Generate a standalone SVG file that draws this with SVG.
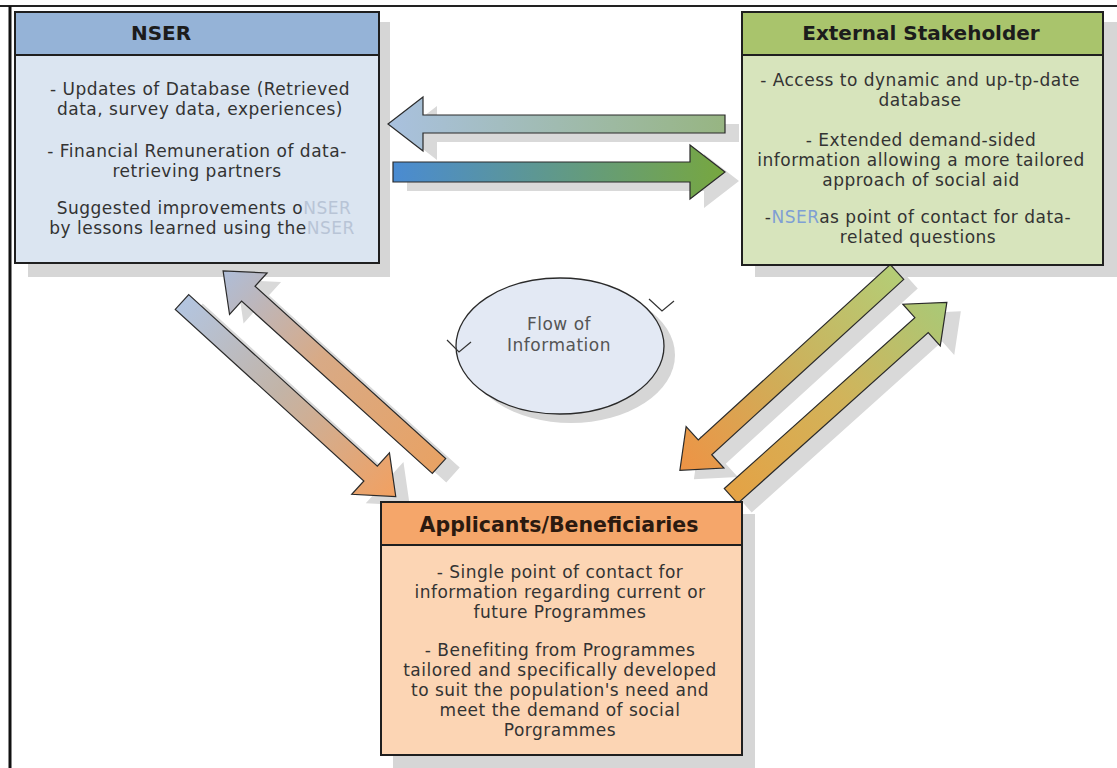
<svg xmlns="http://www.w3.org/2000/svg" width="1117" height="768" viewBox="0 0 1117 768">
<style>
.t{font-family:"DejaVu Sans","Liberation Sans",sans-serif;font-size:17px;letter-spacing:0.5px;fill:#333;text-anchor:middle}
.h{font-family:"DejaVu Sans","Liberation Sans",sans-serif;font-size:20px;font-weight:bold;fill:#1c1c1c;text-anchor:middle}
.box{stroke:#1f1f1f;stroke-width:2}
.sh{fill:#d6d6d6}
.ar{stroke:#2a2a2a;stroke-width:1.2;stroke-linejoin:miter}
.ash{fill:#d9d9d9}
.mk{fill:none;stroke:#333;stroke-width:1.2}
</style>
<defs>
<linearGradient id="gTop" x1="0" y1="0" x2="1" y2="0"><stop offset="0" stop-color="#a9c1df"/><stop offset="1" stop-color="#97b582"/></linearGradient>
<linearGradient id="gBot" x1="0" y1="0" x2="1" y2="0"><stop offset="0" stop-color="#4a8bd2"/><stop offset="1" stop-color="#77a73f"/></linearGradient>
<linearGradient id="gA" x1="0" y1="0" x2="1" y2="0"><stop offset="0" stop-color="#b3c5e0"/><stop offset="0.45" stop-color="#c2b4a8"/><stop offset="1" stop-color="#f2a060"/></linearGradient>
<linearGradient id="gB" x1="0" y1="0" x2="1" y2="0"><stop offset="0" stop-color="#e8a264"/><stop offset="0.55" stop-color="#d8aa86"/><stop offset="1" stop-color="#aebdd8"/></linearGradient>
<linearGradient id="gC" x1="0" y1="0" x2="1" y2="0"><stop offset="0" stop-color="#b4cd76"/><stop offset="0.55" stop-color="#d0ad58"/><stop offset="1" stop-color="#ee9345"/></linearGradient>
<linearGradient id="gD" x1="0" y1="0" x2="1" y2="0"><stop offset="0" stop-color="#e4a245"/><stop offset="0.5" stop-color="#d2b35a"/><stop offset="1" stop-color="#a9c977"/></linearGradient>
</defs>
<rect x="0" y="0" width="1117" height="768" fill="#fff"/>
<g id="frame">
<line x1="0" y1="6" x2="1117" y2="6" stroke="#222" stroke-width="2"/>
<line x1="10" y1="6" x2="10" y2="768" stroke="#111" stroke-width="3"/>
</g>
<g id="shadows">
<rect class="sh" x="28" y="22" width="362" height="255"/>
<rect class="sh" x="755" y="22" width="362" height="255"/>
<rect class="sh" x="393" y="514" width="362" height="254"/>
<ellipse class="sh" cx="571" cy="355" rx="104" ry="68"/>
</g>
<g id="connectors">
<polygon class="ash" transform="translate(14,9)" points="725,115 423,115 423,97 388,124 423,151 423,133 725,133"/>
<polygon class="ash" transform="translate(14,9)" points="393,162 690,162 690,145 725,172 690,199 690,182 393,182"/>
<g transform="translate(196,311) rotate(42.3)"><polygon class="ash" points="0,-10 255,-10 255,-28 289,0 255,28 255,10 0,10"/></g>
<g transform="translate(453,475) rotate(-137.9)"><polygon class="ash" points="0,-10 257,-10 257,-28 291,0 257,28 257,10 0,10"/></g>
<g transform="translate(911,281) rotate(137.6)"><polygon class="ash" points="0,-10 260,-10 260,-28 294,0 260,28 260,10 0,10"/></g>
<g transform="translate(745,505) rotate(-41.9)"><polygon class="ash" points="0,-10 256,-10 256,-28 290,0 256,28 256,10 0,10"/></g>
<polygon class="ar" fill="url(#gTop)" points="725,115 423,115 423,97 388,124 423,151 423,133 725,133"/>
<polygon class="ar" fill="url(#gBot)" points="393,162 690,162 690,145 725,172 690,199 690,182 393,182"/>
<g transform="translate(182,302) rotate(42.3)"><polygon class="ar" fill="url(#gA)" points="0,-10 255,-10 255,-28 289,0 255,28 255,10 0,10"/></g>
<g transform="translate(439,466) rotate(-137.9)"><polygon class="ar" fill="url(#gB)" points="0,-10 257,-10 257,-28 291,0 257,28 257,10 0,10"/></g>
<g transform="translate(897,272) rotate(137.6)"><polygon class="ar" fill="url(#gC)" points="0,-10 260,-10 260,-28 294,0 260,28 260,10 0,10"/></g>
<g transform="translate(731,496) rotate(-41.9)"><polygon class="ar" fill="url(#gD)" points="0,-10 256,-10 256,-28 290,0 256,28 256,10 0,10"/></g>
</g>
<g id="nser">
<rect class="box" x="15" y="12" width="364" height="251" fill="#dbe5f1"/>
<rect class="box" x="15" y="12" width="364" height="43" fill="#95b3d7"/>
<text class="h" x="161" y="40">NSER</text>
<text class="t" x="200" y="95">- Updates of Database (Retrieved</text>
<text class="t" x="200" y="115">data, survey data, experiences)</text>
<text class="t" x="197" y="157">- Financial Remuneration of data-</text>
<text class="t" x="197" y="177">retrieving partners</text>
<text class="t" x="204" y="214">Suggested improvements o<tspan fill="#b8c4d6">NSER</tspan></text>
<text class="t" x="202" y="234">by lessons learned using the<tspan fill="#b8c4d6">NSER</tspan></text>
</g>
<g id="external">
<rect class="box" x="742" y="12" width="361" height="253" fill="#d7e4bc"/>
<rect class="box" x="742" y="12" width="361" height="43" fill="#a9c46c"/>
<text class="h" x="921" y="40">External Stakeholder</text>
<text class="t" x="920" y="86">- Access to dynamic and up-tp-date</text>
<text class="t" x="920" y="106">database</text>
<text class="t" x="921" y="146">- Extended demand-sided</text>
<text class="t" x="921" y="166">information allowing a more tailored</text>
<text class="t" x="921" y="186">approach of social aid</text>
<text class="t" x="918" y="223">-<tspan fill="#7f9fd4">NSER</tspan>as point of contact for data-</text>
<text class="t" x="918" y="243">related questions</text>
</g>
<g id="applicants">
<rect class="box" x="381" y="502" width="361" height="253" fill="#fcd5b4"/>
<rect class="box" x="381" y="502" width="361" height="43" fill="#f5a66a"/>
<text class="h" x="559" y="532" style="font-size:20.5px;fill:#2b1a10">Applicants/Beneficiaries</text>
<text class="t" x="560" y="578">- Single point of contact for</text>
<text class="t" x="560" y="598">information regarding current or</text>
<text class="t" x="560" y="618">future Programmes</text>
<text class="t" x="560" y="656">- Benefiting from Programmes</text>
<text class="t" x="560" y="676">tailored and specifically developed</text>
<text class="t" x="560" y="696">to suit the population's need and</text>
<text class="t" x="560" y="716">meet the demand of social</text>
<text class="t" x="560" y="736">Porgrammes</text>
</g>
<g id="flow">
<ellipse cx="560" cy="346" rx="104" ry="68" fill="#e3e9f4" stroke="#2a2a2a" stroke-width="1.3"/>
<polyline class="mk" points="447,340 459,352 471,342"/>
<polyline class="mk" points="649,299 662,311 674,301"/>
<text class="t" x="559" y="330" style="fill:#555">Flow of</text>
<text class="t" x="559" y="351" style="fill:#555">Information</text>
</g>
</svg>
